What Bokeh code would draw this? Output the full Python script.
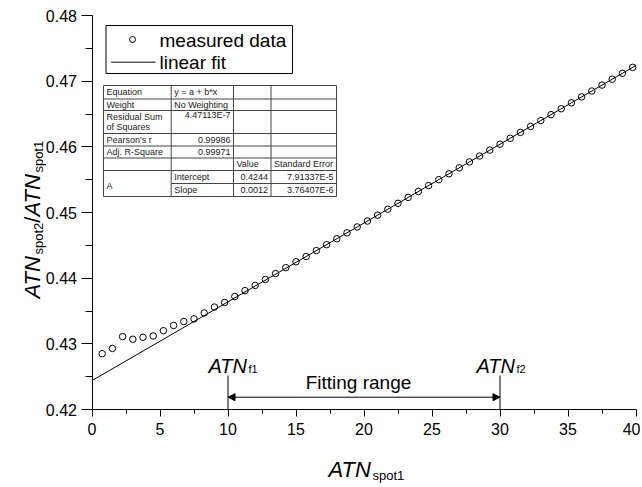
import math
from bokeh.plotting import figure
from bokeh.models import Label, Arrow, NormalHead, FixedTicker, NumeralTickFormatter, Range1d
from bokeh.embed import file_html
from bokeh.resources import INLINE

# ---------------- data ----------------
x_measured = [0.75, 1.5, 2.25, 3.0, 3.75, 4.5, 5.25, 6.0, 6.75, 7.5, 8.25, 9.0, 9.75,
              10.5, 11.25, 12.0, 12.75, 13.5, 14.25, 15.0, 15.75, 16.5, 17.25, 18.0,
              18.75, 19.5, 20.25, 21.0, 21.75, 22.5, 23.25, 24.0, 24.75, 25.5, 26.25,
              27.0, 27.75, 28.5, 29.25, 30.0, 30.75, 31.5, 32.25, 33.0, 33.75, 34.5,
              35.25, 36.0, 36.75, 37.5, 38.25, 39.0, 39.75]
y_measured = [0.4285, 0.4293, 0.4311, 0.4307, 0.4310, 0.4312, 0.4320, 0.4328, 0.4334,
              0.4338, 0.4347, 0.4356, 0.4363, 0.4372, 0.4381, 0.4389, 0.4398, 0.4407,
              0.4416, 0.4425, 0.4433, 0.4442, 0.4451, 0.4460, 0.4469, 0.4478, 0.4487,
              0.4496, 0.4505, 0.4514, 0.4523, 0.4532, 0.4541, 0.4550, 0.4559, 0.4568,
              0.4577, 0.4586, 0.4595, 0.4604, 0.4613, 0.4622, 0.4631, 0.4640, 0.4649,
              0.4658, 0.4667, 0.4676, 0.4685, 0.4694, 0.4703, 0.4712, 0.4721]
fit_intercept = 0.4244
fit_slope = 0.0012
fit_range = [10, 30]
x_limits = [0, 40]
y_limits = [0.42, 0.48]
x_ticks = [0, 5, 10, 15, 20, 25, 30, 35, 40]
y_ticks = [0.42, 0.43, 0.44, 0.45, 0.46, 0.47, 0.48]

table_rows = [
    ["Equation", "y = a + b*x", "", ""],
    ["Weight", "No Weighting", "", ""],
    ["Residual Sum\nof Squares", "4.47113E-7", "", ""],
    ["Pearson's r", "0.99986", "", ""],
    ["Adj. R-Square", "0.99971", "", ""],
    ["", "", "Value", "Standard Error"],
    ["A", "Intercept", "0.4244", "7.91337E-5"],
    ["", "Slope", "0.0012", "3.76407E-6"],
]

FONT = "Liberation Sans"
CW, CH = 640, 485          # canvas size
PX0, PX40 = 91.5, 635.5    # pixel positions of x = 0 and x = 40
PY42, PY48 = 409.0, 15.0   # pixel positions of y = 0.42 and y = 0.48

def RX(px):
    return x_limits[0] + (px - PX0) / (PX40 - PX0) * (x_limits[1] - x_limits[0])

def RY(py):
    return y_limits[0] + (PY42 - py) / (PY42 - PY48) * (y_limits[1] - y_limits[0])

# ---------------- figure (frame = whole canvas, axes at fixed locations) ----------------
p = figure(width=CW, height=CH, x_range=Range1d(RX(0), RX(CW)), y_range=Range1d(RY(CH), RY(0)),
           output_backend="svg", toolbar_location=None,
           min_border=0, min_border_left=0, min_border_right=0, min_border_top=0,
           min_border_bottom=0)
p.title.visible = False
p.outline_line_color = None
p.xgrid.visible = False
p.ygrid.visible = False
p.background_fill_color = "white"
p.border_fill_color = "white"

x_minor = [(a + b) / 2 for a, b in zip(x_ticks[:-1], x_ticks[1:])]
y_minor = [(a + b) / 2 for a, b in zip(y_ticks[:-1], y_ticks[1:])]
p.xaxis.ticker = FixedTicker(ticks=x_ticks, minor_ticks=x_minor)
p.yaxis.ticker = FixedTicker(ticks=y_ticks, minor_ticks=y_minor)
p.yaxis.formatter = NumeralTickFormatter(format="0.00")
p.xaxis.fixed_location = y_limits[0]
p.yaxis.fixed_location = x_limits[0]
p.xaxis.bounds = tuple(x_limits)
p.yaxis.bounds = tuple(y_limits)
for ax in (p.xaxis, p.yaxis):
    ax.axis_line_color = "black"
    ax.major_tick_line_color = "black"
    ax.minor_tick_line_color = "black"
    ax.major_tick_in = 0
    ax.minor_tick_in = 0
    ax.major_label_text_font = FONT
    ax.major_label_text_font_size = "16px"
    ax.major_label_text_color = "black"
p.xaxis.major_tick_out = 7
p.xaxis.minor_tick_out = 4
p.xaxis.major_label_standoff = 6
p.yaxis.major_tick_out = 11
p.yaxis.minor_tick_out = 7
p.yaxis.major_label_standoff = 4

# ---------------- marks ----------------
p.line(x_limits, [fit_intercept + fit_slope * v for v in x_limits], line_color="black", line_width=1)
p.scatter(x_measured, y_measured, marker="circle", size=6.5, fill_color=None,
          line_color="black", line_width=1)

# fitting range markers
top_mark = RY(375)
p.segment(x0=fit_range, y0=[y_limits[0]] * 2, x1=fit_range, y1=[top_mark] * 2,
          line_color="black", line_width=1)
ya = RY(396.7)
p.add_layout(Arrow(start=NormalHead(size=7, fill_color="black", line_color="black"),
                   end=NormalHead(size=7, fill_color="black", line_color="black"),
                   x_start=fit_range[0], y_start=ya, x_end=fit_range[1], y_end=ya,
                   line_color="black", line_width=1))

# ---------------- text helpers ----------------
W = {"A": .667, "T": .611, "N": .722, "s": .5, "p": .556, "o": .556, "t": .278,
     "1": .556, "2": .556, "/": .278, "f": .278}

def tw(s, size):
    return sum(W.get(c, .556) for c in s) * size

def lab(px, py, text, size, style="normal", align="left", baseline="alphabetic", angle=0.0,
        color="black"):
    p.add_layout(Label(x=RX(px), y=RY(py), text=text, text_font=FONT,
                       text_font_size=f"{size}px", text_font_style=style,
                       text_align=align, text_baseline=baseline, angle=angle,
                       text_color=color))

# x axis title
BIG, SUB = 22, 13
x0 = 328
lab(x0, 469, "ATN", BIG, "italic")
lab(x0 + tw("ATN", BIG), 475, "spot1", SUB)

# y axis title (rotated)
yb = 298
bx = 32
pieces = [("ATN", BIG, "italic", 0), ("spot2", SUB, "normal", 6), ("/", BIG, "normal", 0),
          ("ATN", BIG, "italic", 0), ("spot1", SUB, "normal", 6)]
for txt, sz, st, off in pieces:
    lab(bx + off, yb, txt, sz, st, angle=math.pi / 2)
    yb -= tw(txt, sz)

# ATN_f1 / ATN_f2
for left, sub in ((208, "f1"), (476, "f2")):
    lab(left, 365, "ATN", 20, "italic")
    lab(left + tw("ATN", 20), 368, sub, 11)
lab(358, 381.7, "Fitting range", 19, align="center", baseline="middle")

# ---------------- legend ----------------
p.quad(left=[RX(105.5)], right=[RX(292)], top=[RY(25)], bottom=[RY(73)],
       fill_color="white", line_color="black", line_width=1)
p.scatter([RX(132)], [RY(39)], marker="circle", size=6, fill_color=None, line_color="black")
p.line([RX(110.7), RX(155)], [RY(61.7)] * 2, line_color="black", line_width=1)
lab(159, 40, "measured data", 19, baseline="middle")
lab(159, 61.5, "linear fit", 19, baseline="middle")

# ---------------- fit table ----------------
cols = [103, 170.7, 233, 270.5, 336]
rows = [85, 98.5, 110, 133, 145.5, 157.5, 170, 183, 196]
p.quad(left=[RX(cols[0])], right=[RX(cols[-1])], top=[RY(rows[0])], bottom=[RY(rows[-1])],
       fill_color="white", line_color=None)
hx0, hy0, hx1, hy1 = [], [], [], []
for i, ry in enumerate(rows):
    start = cols[1] if i == 7 else cols[0]
    hx0.append(RX(start)); hx1.append(RX(cols[-1])); hy0.append(RY(ry)); hy1.append(RY(ry))
for cx in cols:
    hx0.append(RX(cx)); hx1.append(RX(cx)); hy0.append(RY(rows[0])); hy1.append(RY(rows[-1]))
p.segment(x0=hx0, y0=hy0, x1=hx1, y1=hy1, line_color="#444444", line_width=1)

TS = 9
TC = "#222222"
right_cols = {(2, 1), (3, 1), (4, 1), (6, 2), (7, 2), (6, 3), (7, 3)}
for r, row in enumerate(table_rows):
    for c, txt in enumerate(row):
        if not txt:
            continue
        cy = (rows[r] + rows[r + 1]) / 2
        if (r, c) == (6, 0):
            cy = (rows[6] + rows[8]) / 2 + 2
        lines = txt.split("\n")
        if (r, c) in right_cols:
            xx, al = cols[c + 1] - 3, "right"
            if r == 2:
                cy = rows[r] + 4
        else:
            xx, al = cols[c] + 3, "left"
        n = len(lines)
        for k, ln in enumerate(lines):
            yy = cy + (k - (n - 1) / 2) * 10
            lab(xx, yy, ln, TS, align=al, baseline="middle", color=TC)

open("out.html", "w").write(file_html(p, INLINE))
